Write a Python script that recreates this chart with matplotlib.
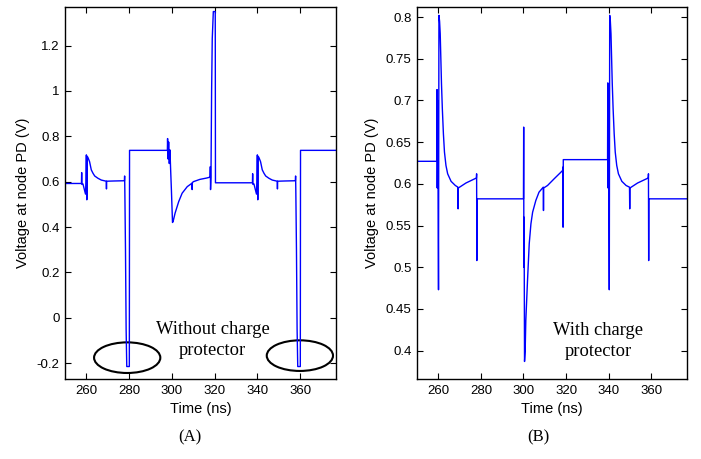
import numpy as np
import matplotlib.pyplot as plt
from matplotlib.patches import Ellipse

plt.rcParams['font.family'] = ['Liberation Sans', 'DejaVu Sans']

# Panel (A): voltage at node PD without charge protector
time_a = [250.0, 257.7, 257.8, 257.9, 258.4, 259.6, 259.8, 260.0, 260.2, 260.4,
          260.8, 261.5, 262.3, 263.1, 263.9, 265.4, 267.0, 269.3, 269.4, 269.5,
          273.0, 277.8, 277.9, 278.0, 278.3, 278.6, 278.9, 280.1, 280.2,
          297.9, 298.0, 298.2, 298.5, 298.8, 299.1, 299.4, 299.8, 300.3, 300.6,
          301.5, 303.2, 304.8, 307.2, 309.4, 309.5, 309.6, 310.1, 313.1, 316.3,
          317.9, 318.0, 318.1, 318.3, 318.6, 318.9, 319.4, 320.3, 320.4,
          337.7, 337.8, 337.9, 338.4, 339.6, 339.8, 340.0, 340.2, 340.4,
          340.8, 341.5, 342.3, 343.1, 343.9, 345.4, 347.0, 349.3, 349.4, 349.5,
          353.0, 357.8, 357.9, 358.0, 358.3, 358.6, 358.9, 360.1, 360.2, 376.8]
volt_a = [0.592, 0.592, 0.640, 0.588, 0.590, 0.545, 0.600, 0.718, 0.520, 0.712,
          0.705, 0.688, 0.652, 0.637, 0.625, 0.615, 0.607, 0.602, 0.568, 0.602,
          0.603, 0.604, 0.625, 0.560, 0.300, -0.050, -0.215, -0.215, 0.738,
          0.738, 0.790, 0.700, 0.775, 0.680, 0.740, 0.660, 0.560, 0.420, 0.425,
          0.461, 0.512, 0.549, 0.578, 0.593, 0.565, 0.596, 0.600, 0.610, 0.616,
          0.620, 0.666, 0.565, 0.620, 1.000, 1.230, 1.350, 1.350, 0.595,
          0.595, 0.635, 0.588, 0.590, 0.545, 0.600, 0.718, 0.520, 0.712,
          0.705, 0.688, 0.652, 0.637, 0.625, 0.615, 0.607, 0.602, 0.568, 0.602,
          0.603, 0.604, 0.625, 0.560, 0.300, -0.050, -0.215, -0.215, 0.738, 0.738]

# Panel (B): voltage at node PD with charge protector
time_b = [250.0, 259.3, 259.4, 259.5, 259.7, 259.9, 260.1, 260.3, 260.6, 260.9,
          261.2, 261.5, 261.9, 262.4, 262.9, 263.6, 264.4, 266.0, 268.0, 269.2,
          269.3, 269.4, 270.0, 273.0, 277.9, 278.0, 278.1, 278.2,
          300.0, 300.1, 300.2, 300.3, 300.5, 300.8, 301.1, 301.9, 302.7, 303.5,
          304.3, 305.8, 307.3, 309.3, 309.4, 309.5, 311.3, 314.4, 318.4, 318.5,
          318.6, 318.7,
          339.5, 339.6, 339.7, 339.9, 340.1, 340.3, 340.5, 340.8, 341.1,
          341.4, 341.7, 342.1, 342.6, 343.1, 343.8, 344.6, 346.2, 348.2, 349.8,
          349.9, 350.0, 350.6, 353.6, 358.6, 358.7, 358.8, 358.9, 376.8]
volt_b = [0.627, 0.627, 0.713, 0.595, 0.700, 0.600, 0.473, 0.802, 0.795, 0.780,
          0.750, 0.720, 0.690, 0.660, 0.638, 0.622, 0.612, 0.603, 0.598, 0.596,
          0.570, 0.595, 0.596, 0.601, 0.607, 0.612, 0.508, 0.582,
          0.582, 0.668, 0.500, 0.560, 0.387, 0.400, 0.436, 0.484, 0.528, 0.552,
          0.566, 0.580, 0.590, 0.596, 0.568, 0.595, 0.598, 0.606, 0.616, 0.620,
          0.548, 0.629,
          0.629, 0.721, 0.595, 0.700, 0.600, 0.473, 0.802, 0.795, 0.780,
          0.750, 0.720, 0.690, 0.660, 0.638, 0.622, 0.612, 0.603, 0.598, 0.596,
          0.570, 0.595, 0.596, 0.601, 0.607, 0.612, 0.508, 0.582, 0.582]

ticks_x = [260, 280, 300, 320, 340, 360]
ticks_a = [-0.2, 0, 0.2, 0.4, 0.6, 0.8, 1, 1.2]
labels_a = ['-0.2', '0', '0.2', '0.4', '0.6', '0.8', '1', '1.2']
ticks_b = [0.4, 0.45, 0.5, 0.55, 0.6, 0.65, 0.7, 0.75, 0.8]
labels_b = ['0.4', '0.45', '0.5', '0.55', '0.6', '0.65', '0.7', '0.75', '0.8']

fig = plt.figure(figsize=(7.01, 4.59), dpi=100)
ax_a = fig.add_axes([65 / 701, 1 - 379 / 459, 271 / 701, 372 / 459])
ax_b = fig.add_axes([417 / 701, 1 - 379 / 459, 270 / 701, 372 / 459])

ax_a.plot(time_a, volt_a, color='#0000ff', lw=1.0)
ax_b.plot(time_b, volt_b, color='#0000ff', lw=1.0)

ax_a.set_xlim(250, 376.8)
ax_a.set_ylim(-0.27, 1.37)
ax_b.set_xlim(250, 376.8)
ax_b.set_ylim(0.366, 0.812)

ax_a.set_yticks(ticks_a)
ax_a.set_yticklabels(labels_a)
ax_b.set_yticks(ticks_b)
ax_b.set_yticklabels(labels_b)

for ax in (ax_a, ax_b):
    ax.set_xticks(ticks_x)
    ax.tick_params(direction='in', top=True, right=True, length=4, width=0.8,
                   labelsize=9.5, pad=4)
    for sp in ax.spines.values():
        sp.set_linewidth(1.0)
    ax.set_xlabel('Time (ns)', fontsize=10.5, labelpad=4)
    ax.set_ylabel('Voltage at node PD (V)', fontsize=10.5, labelpad=5)

# marked dips and notes
for cx, cy in [(279.1, -0.176), (359.9, -0.167)]:
    ax_a.add_patch(Ellipse((cx, cy), 31.0, 0.135, fill=False, ec='black', lw=1.5))

ax_a.text(319, -0.097, 'Without charge\nprotector', ha='center', va='center',
          fontsize=13.3, family='Liberation Serif', linespacing=1.3)
ax_b.text(335, 0.412, 'With charge\nprotector', ha='center', va='center',
          fontsize=13.3, family='Liberation Serif', linespacing=1.3)

fig.text(190 / 701, 1 - 437 / 459, '(A)', ha='center', va='center',
         fontsize=12, family='Liberation Serif')
fig.text(538 / 701, 1 - 437 / 459, '(B)', ha='center', va='center',
         fontsize=12, family='Liberation Serif')

fig.savefig('out.png', dpi=100)
